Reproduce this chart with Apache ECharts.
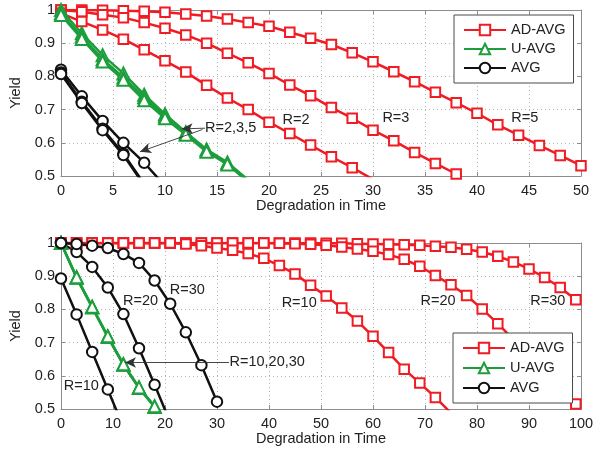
<!DOCTYPE html>
<html>
<head>
<meta charset="utf-8">
<script src="https://cdn.jsdelivr.net/npm/echarts@6/dist/echarts.min.js"></script>
<style>
  html, body { margin: 0; padding: 0; background: #fff; }
  #chart { width: 611px; height: 454px; }
</style>
</head>
<body>
<div id="chart"></div>
<script>
// ---------- Upper panel: yield vs. degradation, R = 2, 3, 5 ----------
const topSteps = [0, 2, 4, 6, 8, 10, 12, 14, 16, 18, 20, 22, 24, 26, 28, 30, 32, 34, 36, 38, 40, 42, 44, 46, 48, 50];
const topXTicks = [0, 5, 10, 15, 20, 25, 30, 35, 40, 45, 50];

const topAdAvgR5 = [1.0, 1.0, 0.999, 0.998, 0.996, 0.993, 0.988, 0.982, 0.973, 0.962, 0.951, 0.933, 0.915,
                    0.896, 0.871, 0.844, 0.814, 0.784, 0.752, 0.721, 0.689, 0.654, 0.623, 0.592, 0.562, 0.531];
const topAdAvgR3 = [1.0, 0.995, 0.986, 0.977, 0.962, 0.945, 0.925, 0.9, 0.87, 0.841, 0.809, 0.774, 0.742,
                    0.706, 0.674, 0.638, 0.606, 0.571, 0.538, 0.506];
const topAdAvgR2 = [0.99, 0.965, 0.94, 0.912, 0.88, 0.847, 0.813, 0.773, 0.735, 0.7, 0.662, 0.628, 0.593,
                    0.558, 0.525, 0.49];

const topUAvgR5 = [1.0, 0.93, 0.864, 0.809, 0.745, 0.686, 0.632, 0.58, 0.541, 0.488];
const topUAvgR3 = [0.99, 0.92, 0.852, 0.797, 0.737, 0.68, 0.628, 0.577, 0.538, 0.485];
const topUAvgR2 = [0.985, 0.913, 0.845, 0.79, 0.728, 0.674, 0.624, 0.573, 0.535, 0.482];

const topAvgR5 = [0.82, 0.74, 0.666, 0.6, 0.54, 0.47];
const topAvgR3 = [0.812, 0.724, 0.642, 0.567, 0.476];
const topAvgR2 = [0.807, 0.72, 0.638, 0.563, 0.472];

// ---------- Lower panel: yield vs. degradation, R = 10, 20, 30 ----------
const bottomSteps = [0, 3, 6, 9, 12, 15, 18, 21, 24, 27, 30, 33, 36, 39, 42, 45, 48, 51, 54, 57, 60, 63, 66,
                     69, 72, 75, 78, 81, 84, 87, 90, 93, 96, 99];
const bottomXTicks = [0, 10, 20, 30, 40, 50, 60, 70, 80, 90, 100];

const bottomAdAvgR30 = [1.0, 1.0, 1.0, 1.0, 1.0, 1.0, 1.0, 1.0, 1.0, 1.0, 1.0, 1.0, 1.0, 1.0, 1.0, 1.0, 1.0,
                        0.999, 0.999, 0.998, 0.997, 0.996, 0.995, 0.993, 0.99, 0.987, 0.981, 0.973, 0.96,
                        0.943, 0.922, 0.896, 0.866, 0.829];
const bottomAdAvgR20 = [1.0, 1.0, 1.0, 1.0, 1.0, 1.0, 1.0, 1.0, 1.0, 1.0, 1.0, 1.0, 1.0, 1.0, 0.999, 0.998,
                        0.996, 0.993, 0.988, 0.982, 0.975, 0.965, 0.951, 0.93, 0.902, 0.874, 0.842, 0.801,
                        0.757, 0.71, 0.661, 0.61, 0.562, 0.515];
const bottomAdAvgR10 = [1.0, 1.0, 1.0, 1.0, 1.0, 1.0, 1.0, 1.0, 0.997, 0.992, 0.985, 0.978, 0.968, 0.954,
                        0.932, 0.907, 0.873, 0.84, 0.804, 0.765, 0.719, 0.67, 0.62, 0.578, 0.535, 0.488];

const bottomUAvgR10 = [1.0, 0.895, 0.806, 0.717, 0.633, 0.563, 0.506, 0.45];
const bottomUAvgR20 = [1.0, 0.896, 0.807, 0.718, 0.634, 0.564, 0.507, 0.451];
const bottomUAvgR30 = [1.0, 0.897, 0.808, 0.719, 0.635, 0.565, 0.508, 0.452];

const bottomAvgR10 = [0.893, 0.785, 0.672, 0.559, 0.445];
const bottomAvgR20 = [1.0, 0.973, 0.928, 0.866, 0.786, 0.683, 0.573, 0.46];
const bottomAvgR30 = [1.0, 0.997, 0.992, 0.985, 0.967, 0.94, 0.887, 0.817, 0.731, 0.632, 0.522];

const yTicks = [0.5, 0.6, 0.7, 0.8, 0.9, 1.0];
const legendNames = ['AD-AVG', 'U-AVG', 'AVG'];

// ---------- Annotations (data coordinates) ----------
const topNotes = [
  { text: 'R=2', x: 22.6, y: 0.669, align: 'center' },
  { text: 'R=3', x: 32.2, y: 0.675, align: 'center' },
  { text: 'R=5', x: 44.6, y: 0.675, align: 'center' },
  { text: 'R=2,3,5', x: 13.85, y: 0.644, align: 'left' }
];
const topArrows = [
  [[13.85, 0.644], [11.6, 0.642]],
  [[13.6, 0.640], [7.6, 0.573]]
];
const bottomNotes = [
  { text: 'R=10', x: 3.9, y: 0.570, align: 'center' },
  { text: 'R=20', x: 15.3, y: 0.826, align: 'center' },
  { text: 'R=30', x: 24.3, y: 0.859, align: 'center' },
  { text: 'R=10', x: 45.8, y: 0.820, align: 'center' },
  { text: 'R=20', x: 72.5, y: 0.824, align: 'center' },
  { text: 'R=30', x: 93.6, y: 0.824, align: 'center' },
  { text: 'R=10,20,30', x: 32.4, y: 0.641, align: 'left' }
];
const bottomArrows = [
  [[32.3, 0.640], [12.3, 0.640]]
];

// ---------- Styling ----------
const FONT = 'Liberation Sans, Arial, Helvetica, sans-serif';
const FS = 14.5;
const TEXT = '#222';
const FRAME = '#8c8c8c';
const RED = '#f01c24';
const GREEN = '#1d9e3c';
const BLACK = '#111111';

const kinds = {
  'AD-AVG': { color: RED, symbol: 'emptyRect', size: 9.5 },
  'U-AVG': { color: GREEN, symbol: 'emptyTriangle', size: 12 },
  'AVG': { color: BLACK, symbol: 'emptyCircle', size: 10.5 }
};

function makeSeries(name, grid, steps, values) {
  const k = kinds[name];
  return {
    type: 'line',
    name: name,
    xAxisIndex: grid * 2,
    yAxisIndex: grid * 2,
    data: values.map((v, i) => [steps[i], v]),
    symbol: k.symbol,
    symbolSize: k.size,
    showAllSymbol: true,
    clip: true,
    animation: false,
    lineStyle: { color: k.color, width: 2.5 },
    itemStyle: { color: k.color, borderWidth: 2.2 },
    emphasis: { disabled: true },
    silent: true
  };
}

function arrowMarks(arrows) {
  return {
    silent: true,
    symbol: ['none', 'arrow'],
    symbolSize: [8, 11],
    label: { show: false },
    lineStyle: { color: '#333', width: 0.9, type: 'solid' },
    emphasis: { disabled: true },
    data: arrows.map(a => [{ coord: a[0] }, { coord: a[1] }])
  };
}

const grids = [
  { left: 61, top: 10, width: 520, height: 166 },
  { left: 61, top: 243, width: 520, height: 166 }
];

function xAxes(grid, max, interval, nameGap) {
  const base = {
    gridIndex: grid, type: 'value', min: 0, max: max, interval: interval,
    axisLine: { show: true, onZero: false, lineStyle: { color: FRAME, width: 1 } },
    axisTick: { show: true, inside: true, length: 4, lineStyle: { color: FRAME } }
  };
  return [
    Object.assign({}, base, {
      position: 'bottom',
      axisLabel: { margin: 7, fontSize: FS, fontFamily: FONT, color: TEXT },
      splitLine: { show: true, lineStyle: { color: '#b5b5b5', type: [1, 3], width: 1 } },
      name: 'Degradation in Time', nameLocation: 'middle', nameGap: nameGap,
      nameTextStyle: { fontSize: FS, fontFamily: FONT, color: TEXT }
    }),
    Object.assign({}, base, {
      position: 'top',
      axisLabel: { show: false },
      splitLine: { show: false }
    })
  ];
}

function yAxes(grid) {
  const base = {
    gridIndex: grid, type: 'value', min: 0.5, max: 1, interval: 0.1,
    axisLine: { show: true, onZero: false, lineStyle: { color: FRAME, width: 1 } },
    axisTick: { show: true, inside: true, length: 4, lineStyle: { color: FRAME } }
  };
  return [
    Object.assign({}, base, {
      position: 'left',
      axisLabel: {
        margin: 6, fontSize: FS, fontFamily: FONT, color: TEXT,
        formatter: v => String(Number(v.toFixed(1)))
      },
      splitLine: { show: true, lineStyle: { color: '#b5b5b5', type: [1, 3], width: 1 } },
      name: 'Yield', nameLocation: 'middle', nameGap: 34, nameRotate: 90,
      nameTextStyle: { fontSize: FS, fontFamily: FONT, color: TEXT }
    }),
    Object.assign({}, base, {
      position: 'right',
      axisLabel: { show: false },
      splitLine: { show: false }
    })
  ];
}

function legend(left, top, gap) {
  return {
    data: legendNames,
    orient: 'vertical',
    left: left, top: top,
    itemWidth: 42, itemHeight: 13, itemGap: gap,
    padding: [7, 8, 7, 9],
    backgroundColor: '#ffffff',
    borderColor: '#4a4a4a', borderWidth: 1, borderRadius: 0,
    selectedMode: false,
    textStyle: { fontSize: FS, fontFamily: FONT, color: TEXT, lineHeight: 16 }
  };
}

const series = [
  makeSeries('AD-AVG', 0, topSteps, topAdAvgR5),
  makeSeries('AD-AVG', 0, topSteps, topAdAvgR3),
  makeSeries('AD-AVG', 0, topSteps, topAdAvgR2),
  makeSeries('U-AVG', 0, topSteps, topUAvgR5),
  makeSeries('U-AVG', 0, topSteps, topUAvgR3),
  makeSeries('U-AVG', 0, topSteps, topUAvgR2),
  makeSeries('AVG', 0, topSteps, topAvgR5),
  makeSeries('AVG', 0, topSteps, topAvgR3),
  makeSeries('AVG', 0, topSteps, topAvgR2),
  makeSeries('AD-AVG', 1, bottomSteps, bottomAdAvgR30),
  makeSeries('AD-AVG', 1, bottomSteps, bottomAdAvgR20),
  makeSeries('AD-AVG', 1, bottomSteps, bottomAdAvgR10),
  makeSeries('U-AVG', 1, bottomSteps, bottomUAvgR10),
  makeSeries('U-AVG', 1, bottomSteps, bottomUAvgR20),
  makeSeries('U-AVG', 1, bottomSteps, bottomUAvgR30),
  makeSeries('AVG', 1, bottomSteps, bottomAvgR10),
  makeSeries('AVG', 1, bottomSteps, bottomAvgR20),
  makeSeries('AVG', 1, bottomSteps, bottomAvgR30)
];
series[8].markLine = arrowMarks(topArrows);
series[17].markLine = arrowMarks(bottomArrows);

const chart = echarts.init(document.getElementById('chart'), null, { renderer: 'canvas' });

chart.setOption({
  backgroundColor: '#ffffff',
  animation: false,
  textStyle: { fontFamily: FONT },
  grid: grids,
  xAxis: xAxes(0, topXTicks[topXTicks.length - 1], topXTicks[1] - topXTicks[0], 21)
    .concat(xAxes(1, bottomXTicks[bottomXTicks.length - 1], bottomXTicks[1] - bottomXTicks[0], 20)),
  yAxis: yAxes(0).concat(yAxes(1)),
  legend: [legend(454, 15, 3), legend(453, 333, 4)],
  series: series
});

// Curve labels placed through the axis scales
function noteGraphics(notes, grid) {
  return notes.map(n => {
    const p = chart.convertToPixel({ gridIndex: grid }, [n.x, n.y]);
    return {
      type: 'text', x: p[0], y: p[1], silent: true, z: 10,
      style: {
        text: n.text, fill: TEXT, font: FS + 'px ' + FONT,
        align: n.align, verticalAlign: 'middle'
      }
    };
  });
}
chart.setOption({
  graphic: noteGraphics(topNotes, 0).concat(noteGraphics(bottomNotes, 1))
});
</script>
</body>
</html>
